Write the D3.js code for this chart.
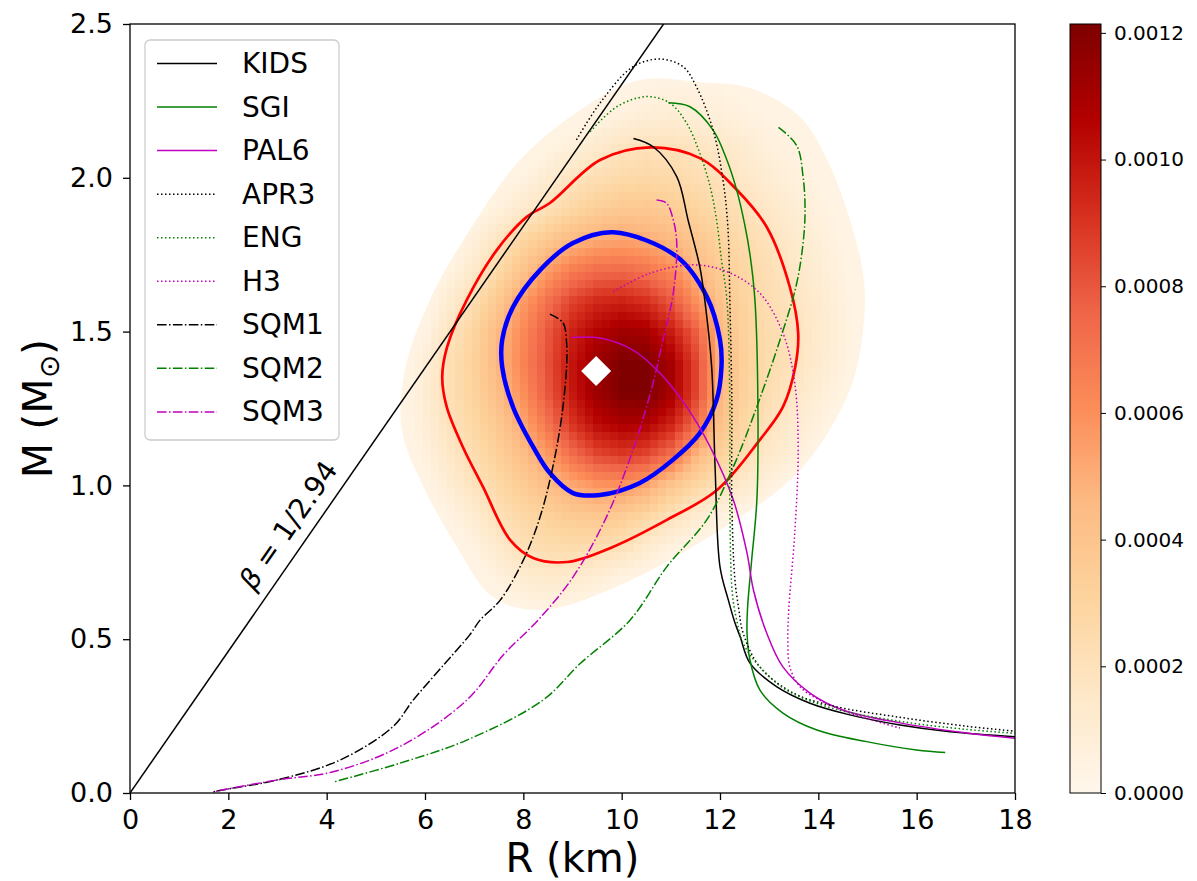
<!DOCTYPE html>
<html>
<head>
<meta charset="utf-8">
<script src="https://cdn.jsdelivr.net/npm/d3@7"></script>
<style>
  body { margin: 0; background: #fff; }
  svg { display: block; }
  text { font-family: "DejaVu Sans", sans-serif; fill: #000; }
</style>
</head>
<body>
<svg id="chart" width="1197" height="881"></svg>
<script>
// ---------------- data ----------------
const tickR = [0, 2, 4, 6, 8, 10, 12, 14, 16, 18];
const tickM = [0, 0.5, 1.0, 1.5, 2.0, 2.5];
const colorTicks = [0, 0.0002, 0.0004, 0.0006, 0.0008, 0.0010, 0.0012];
const densityMax = 0.001214;

// posterior density on a coarse (R, M) grid, in units of 1e-5
const densityUnit = 1e-5;
const densityR = [5.5, 6, 6.5, 7, 7.5, 8, 8.5, 9, 9.5, 10, 10.5, 11, 11.5, 12, 12.5, 13, 13.5, 14, 14.5, 15];
const densityM = [2.3, 2.2, 2.1, 2.0, 1.9, 1.8, 1.7, 1.6, 1.5, 1.4, 1.3, 1.2, 1.1, 1.0, 0.9, 0.8, 0.7, 0.6];
const densityRows = [
  [0,0,0,0,0,0,0,0,0,2,4,5,5,4,3,0,0,0,0,0],
  [0,0,0,0,0,0,0,0,4,7,9,10,9,8,6,4,3,0,0,0],
  [0,0,0,0,0,0,4,8,13,18,20,20,18,15,11,7,5,2,0,0],
  [0,0,0,0,2,5,11,18,23,26,27,26,23,20,15,10,7,4,0,0],
  [0,0,0,2,6,13,21,28,34,38,38,35,30,25,20,15,10,6,3,0],
  [0,0,0,7,18,29,38,46,51,53,51,46,39,31,25,19,13,8,4,0],
  [0,0,4,14,27,40,56,67,73,74,70,62,47,35,28,22,16,10,5,0],
  [0,1,11,24,38,56,72,86,94,96,92,80,60,41,30,23,18,12,6,1],
  [0,4,18,30,46,62,80,96,106,112,110,98,78,46,31,24,20,13,7,1],
  [0,9,22,32,47,64,82,100,113,121,121,110,86,49,32,24,20,12,6,0],
  [1,10,22,31,44,60,80,99,113,121,122,110,86,47,31,23,16,9,4,0],
  [1,9,19,28,38,52,71,90,103,108,107,96,74,42,28,19,12,6,0,0],
  [0,6,15,24,33,43,56,72,84,88,84,72,48,31,22,14,8,2,0,0],
  [0,2,10,19,27,35,43,51,57,58,52,39,28,20,12,6,1,0,0,0],
  [0,0,4,11,21,27,32,36,38,35,28,20,11,5,2,0,0,0,0,0],
  [0,0,0,5,13,21,24,25,23,20,12,5,2,0,0,0,0,0,0,0],
  [0,0,0,0,6,11,13,12,9,4,1,0,0,0,0,0,0,0,0,0],
  [0,0,0,0,0,3,4,2,0,0,0,0,0,0,0,0,0,0,0,0]
];
// faint outer edge of the density support
const densityEdge = [
  [5.53,1.18],[5.59,1.375],[6.10,1.603],[6.91,1.83],[7.93,2.058],[9.15,2.22],[10.37,2.318],
  [11.59,2.311],[12.61,2.292],[13.63,2.198],[14.18,2.058],[14.58,1.895],[14.91,1.69],[14.93,1.538],
  [14.64,1.31],[13.63,1.05],[12.0,0.855],[9.97,0.676],[8.34,0.595],[7.38,0.637],[6.65,0.80],[5.90,1.018]
];
const edgeLevel = 3.5e-5;

// credible-region contours
const contour68 = [
  [9.83,1.823],[11.12,1.744],[11.73,1.614],[12.0,1.473],[12.03,1.386],[11.93,1.278],[11.59,1.17],
  [11.04,1.083],[10.37,1.008],[9.56,0.969],[9.01,0.975],[8.54,1.04],[8.20,1.125],[7.79,1.255],
  [7.57,1.385],[7.57,1.473],[7.79,1.58],[8.34,1.70],[9.01,1.788]
];
const contour95 = [
  [10.58,2.099],[11.59,2.064],[12.34,1.961],[12.95,1.84],[13.42,1.645],[13.59,1.495],[13.53,1.385],
  [13.28,1.255],[12.81,1.148],[11.94,0.985],[10.92,0.888],[9.82,0.80],[8.89,0.751],[8.20,0.764],
  [7.73,0.823],[7.18,0.995],[6.77,1.125],[6.44,1.256],[6.35,1.352],[6.45,1.45],[6.85,1.603],
  [7.46,1.765],[8.07,1.873],[8.54,1.918],[9.56,2.058]
];

const peakPoint = [9.48, 1.372];
const compactnessDenominator = 2.94;   // beta = 1/2.94
const solarMassKm = 1.4766;             // G Msun / c^2 in km

// mass-radius curves
const kids = [[10.24,2.128],[10.64,2.101],[11.12,2.004],[11.35,1.863],[11.59,1.71],[11.69,1.603],[11.83,1.386],[11.9,1.06],[12.0,0.735],[12.17,0.627],[12.3,0.555],[12.41,0.508],[12.61,0.422],[13.15,0.346],[13.83,0.292],[14.64,0.254],[15.66,0.221],[16.68,0.199],[18.0,0.183]];
const sgi = [[10.95,2.244],[11.39,2.231],[11.86,2.155],[12.14,2.058],[12.34,1.96],[12.5,1.85],[12.61,1.75],[12.71,1.603],[12.77,1.278],[12.75,0.953],[12.64,0.75],[12.56,0.6],[12.55,0.52],[12.6,0.44],[12.81,0.335],[13.28,0.26],[13.97,0.205],[14.98,0.167],[16.0,0.14],[16.58,0.132]];
const pal6 = [[8.98,1.481],[9.56,1.479],[10.23,1.44],[10.78,1.365],[11.32,1.256],[11.8,1.125],[12.27,0.953],[12.55,0.78],[12.68,0.66],[12.95,0.52],[13.28,0.41],[13.83,0.325],[14.5,0.27],[15.66,0.228],[17.02,0.195],[18.0,0.178]];
const apr3 = [[9.08,2.123],[9.56,2.243],[10.23,2.361],[10.78,2.386],[11.25,2.361],[11.52,2.296],[11.86,2.155],[12.06,1.993],[12.16,1.84],[12.2,1.603],[12.24,1.278],[12.24,0.953],[12.3,0.7],[12.38,0.6],[12.47,0.52],[12.81,0.41],[13.49,0.325],[14.3,0.283],[15.66,0.246],[17.02,0.217],[18.0,0.201]];
const eng = [[9.36,2.15],[9.9,2.231],[10.51,2.264],[10.98,2.243],[11.32,2.178],[11.59,2.08],[11.8,1.971],[11.93,1.863],[12.03,1.733],[12.14,1.603],[12.2,1.278],[12.2,0.953],[12.25,0.65],[12.34,0.562],[12.47,0.487],[12.81,0.41],[13.35,0.335],[14.3,0.275],[15.66,0.233],[17.0,0.207],[18.0,0.194]];
const h3 = [[9.83,1.63],[10.58,1.69],[11.45,1.717],[12.14,1.695],[12.81,1.625],[13.28,1.495],[13.52,1.333],[13.59,1.115],[13.52,0.845],[13.4,0.6],[13.38,0.5],[13.42,0.41],[13.63,0.345],[14.03,0.302],[14.64,0.26],[15.66,0.211]];
const sqm1 = [[8.54,1.557],[8.81,1.528],[8.88,1.463],[8.88,1.386],[8.78,1.223],[8.6,1.06],[8.34,0.897],[8.0,0.757],[7.53,0.627],[7.12,0.562],[6.91,0.514],[6.4,0.42],[5.76,0.302],[5.35,0.216],[4.27,0.107],[2.98,0.042],[2.1,0.016],[1.69,0.004]];
const sqm2 = [[13.19,2.164],[13.56,2.105],[13.69,2.003],[13.73,1.895],[13.69,1.788],[13.55,1.65],[13.22,1.473],[12.75,1.256],[12.27,1.06],[11.73,0.888],[10.92,0.736],[10.17,0.562],[9.15,0.42],[8.4,0.302],[6.85,0.172],[5.49,0.097],[4.17,0.037]];
const sqm3 = [[10.71,1.928],[10.91,1.918],[11.05,1.863],[11.12,1.788],[11.05,1.625],[10.84,1.473],[10.64,1.333],[10.23,1.115],[9.69,0.897],[9.01,0.702],[8.3,0.562],[7.6,0.45],[6.85,0.302],[5.49,0.151],[4.13,0.069],[2.98,0.042],[1.69,0.004]];

const seriesNames = ["KIDS", "SGI", "PAL6", "APR3", "ENG", "H3", "SQM1", "SQM2", "SQM3"];
const seriesData = [kids, sgi, pal6, apr3, eng, h3, sqm1, sqm2, sqm3];
const seriesColors = ["#000000", "#008000", "#bf00bf", "#000000", "#008000", "#bf00bf", "#000000", "#008000", "#bf00bf"];
const seriesStyles = ["solid", "solid", "solid", "dotted", "dotted", "dotted", "dashdot", "dashdot", "dashdot"];

// ---------------- layout ----------------
const svg = d3.select("#chart");
const plot = { left: 130, right: 1015, top: 24, bottom: 793 };
const cbar = { left: 1070, right: 1101 };

const x = d3.scaleLinear().domain([0, 18]).range([plot.left, plot.right]);
const y = d3.scaleLinear().domain([0, 2.5]).range([plot.bottom, plot.top]);

const orrd = d3.schemeOrRd[9];
const color = d3.scaleLinear()
  .domain(d3.range(9).map(i => i / 8 * densityMax))
  .range(orrd)
  .interpolate(d3.interpolateRgb)
  .clamp(true);

const dashes = { solid: null, dotted: "1.5,2.5", dashdot: "9.6,2.4,1.5,2.4" };

const defs = svg.append("defs");
defs.append("clipPath").attr("id", "plot-clip")
  .append("rect")
  .attr("x", plot.left).attr("y", plot.top)
  .attr("width", plot.right - plot.left).attr("height", plot.bottom - plot.top);

const closedLine = d3.line().x(d => x(d[0])).y(d => y(d[1])).curve(d3.curveCatmullRomClosed.alpha(0.5));
const openLine = d3.line().x(d => x(d[0])).y(d => y(d[1])).curve(d3.curveCatmullRom.alpha(0.5));

defs.append("clipPath").attr("id", "edge-clip")
  .append("path").attr("d", closedLine(densityEdge));

// ---------------- density map ----------------
const iR = d3.scaleLinear().domain([densityR[0], densityR[densityR.length - 1]]).range([0, densityR.length - 1]);
const iM = d3.scaleLinear().domain([densityM[0], densityM[densityM.length - 1]]).range([0, densityM.length - 1]);

function densityAt(r, m) {
  const fi = iR(r), fj = iM(m);
  if (fi < 0 || fj < 0 || fi > densityR.length - 1 || fj > densityM.length - 1) return 0;
  const i0 = Math.min(Math.floor(fi), densityR.length - 2);
  const j0 = Math.min(Math.floor(fj), densityM.length - 2);
  const tx = fi - i0, ty = fj - j0;
  const a = densityRows[j0][i0], b = densityRows[j0][i0 + 1];
  const c = densityRows[j0 + 1][i0], d = densityRows[j0 + 1][i0 + 1];
  return ((a * (1 - tx) + b * tx) * (1 - ty) + (c * (1 - tx) + d * tx) * ty) * densityUnit;
}

const mapLayer = svg.append("g").attr("clip-path", "url(#plot-clip)");
mapLayer.append("path")
  .attr("d", closedLine(densityEdge))
  .attr("fill", color(edgeLevel));

const cellR = 0.165, cellM = 0.026;
const cells = [];
for (let r = 5.3; r < 15.2; r += cellR) {
  for (let m = 0.5; m < 2.4; m += cellM) {
    const v = densityAt(r + cellR / 2, m + cellM / 2);
    if (v > edgeLevel) cells.push({ r, m, v });
  }
}
mapLayer.append("g").attr("clip-path", "url(#edge-clip)")
  .selectAll("rect").data(cells).join("rect")
  .attr("x", d => x(d.r))
  .attr("y", d => y(d.m + cellM))
  .attr("width", d => x(d.r + cellR) - x(d.r) + 0.4)
  .attr("height", d => y(d.m) - y(d.m + cellM) + 0.4)
  .attr("fill", d => color(d.v))
  .attr("shape-rendering", "crispEdges");

// ---------------- contours ----------------
const overlay = svg.append("g").attr("clip-path", "url(#plot-clip)");
overlay.append("path").attr("d", closedLine(contour95))
  .attr("fill", "none").attr("stroke", "#ff0000").attr("stroke-width", 2.7);
overlay.append("path").attr("d", closedLine(contour68))
  .attr("fill", "none").attr("stroke", "#0000ff").attr("stroke-width", 4.5);

// ---------------- compactness limit ----------------
const betaMass = r => r / (compactnessDenominator * solarMassKm);
overlay.append("line")
  .attr("x1", x(0)).attr("y1", y(0))
  .attr("x2", x(18)).attr("y2", y(betaMass(18)))
  .attr("stroke", "#000").attr("stroke-width", 1.5);

// ---------------- mass-radius curves ----------------
seriesData.forEach((pts, i) => {
  overlay.append("path")
    .attr("d", openLine(pts))
    .attr("fill", "none")
    .attr("stroke", seriesColors[i])
    .attr("stroke-width", 1.5)
    .attr("stroke-dasharray", dashes[seriesStyles[i]]);
});

// peak marker
overlay.append("path")
  .attr("d", d3.symbol(d3.symbolSquare, 450)())
  .attr("transform", `translate(${x(peakPoint[0])},${y(peakPoint[1])}) rotate(45)`)
  .attr("fill", "#fff");

// beta label, aligned with the line
const angle = -Math.atan2(y(0) - y(betaMass(10)), x(10) - x(0)) * 180 / Math.PI;
const betaLabel = svg.append("text")
  .attr("transform", `translate(288,525) rotate(${angle})`)
  .attr("text-anchor", "middle")
  .attr("dominant-baseline", "central")
  .attr("font-size", 28);
betaLabel.append("tspan").attr("font-style", "italic").text("β");
betaLabel.append("tspan").text(" = 1/2.94");

// ---------------- axes ----------------
const xAxis = svg.append("g")
  .attr("transform", `translate(0,${plot.bottom})`)
  .call(d3.axisBottom(x).tickValues(tickR).tickFormat(d3.format("d")).tickSize(7).tickPadding(10));
const yAxis = svg.append("g")
  .attr("transform", `translate(${plot.left},0)`)
  .call(d3.axisLeft(y).tickValues(tickM).tickFormat(d3.format(".1f")).tickSize(7).tickPadding(10));
[xAxis, yAxis].forEach(g => {
  g.select(".domain").remove();
  g.selectAll("line").attr("stroke", "#000").attr("stroke-width", 1.3);
  g.selectAll("text").attr("font-size", 27).attr("font-family", "DejaVu Sans");
});

svg.append("rect")
  .attr("x", plot.left).attr("y", plot.top)
  .attr("width", plot.right - plot.left).attr("height", plot.bottom - plot.top)
  .attr("fill", "none").attr("stroke", "#000").attr("stroke-width", 1.3);

svg.append("text")
  .attr("x", (plot.left + plot.right) / 2).attr("y", 872)
  .attr("text-anchor", "middle").attr("font-size", 40)
  .text("R (km)");

const yLabel = svg.append("text")
  .attr("transform", `translate(52,${(plot.top + plot.bottom) / 2}) rotate(-90)`)
  .attr("text-anchor", "middle").attr("font-size", 41);
yLabel.append("tspan").text("M (M");
yLabel.append("tspan").attr("font-size", 28).attr("dy", 7).text("⊙");
yLabel.append("tspan").attr("dy", -7).text(")");

// ---------------- legend ----------------
const legend = svg.append("g");
legend.append("rect")
  .attr("x", 145).attr("y", 40).attr("width", 194).attr("height", 400)
  .attr("rx", 5).attr("ry", 5)
  .attr("fill", "#fff").attr("fill-opacity", 0.8)
  .attr("stroke", "#cccccc").attr("stroke-width", 1.3);
seriesNames.forEach((name, i) => {
  const ly = 63.5 + i * 43.55;
  legend.append("line")
    .attr("x1", 157).attr("x2", 217).attr("y1", ly).attr("y2", ly)
    .attr("stroke", seriesColors[i]).attr("stroke-width", 1.5)
    .attr("stroke-dasharray", dashes[seriesStyles[i]]);
  legend.append("text")
    .attr("x", 242).attr("y", ly)
    .attr("dominant-baseline", "central")
    .attr("font-size", 28)
    .text(name);
});

// ---------------- colorbar ----------------
const cy = d3.scaleLinear().domain([0, densityMax]).range([plot.bottom, plot.top]);
const grad = defs.append("linearGradient").attr("id", "cbar-grad")
  .attr("x1", 0).attr("y1", 1).attr("x2", 0).attr("y2", 0);
d3.range(0, 1.0001, 0.025).forEach(t => {
  grad.append("stop").attr("offset", t).attr("stop-color", color(t * densityMax));
});
svg.append("rect")
  .attr("x", cbar.left).attr("y", plot.top)
  .attr("width", cbar.right - cbar.left).attr("height", plot.bottom - plot.top)
  .attr("fill", "url(#cbar-grad)")
  .attr("stroke", "#000").attr("stroke-width", 1);
const cAxis = svg.append("g")
  .attr("transform", `translate(${cbar.right},0)`)
  .call(d3.axisRight(cy).tickValues(colorTicks).tickFormat(d3.format(".4f")).tickSize(5).tickPadding(8));
cAxis.select(".domain").remove();
cAxis.selectAll("line").attr("stroke", "#000").attr("stroke-width", 1);
cAxis.selectAll("text").attr("font-size", 20).attr("font-family", "DejaVu Sans");
</script>
</body>
</html>
